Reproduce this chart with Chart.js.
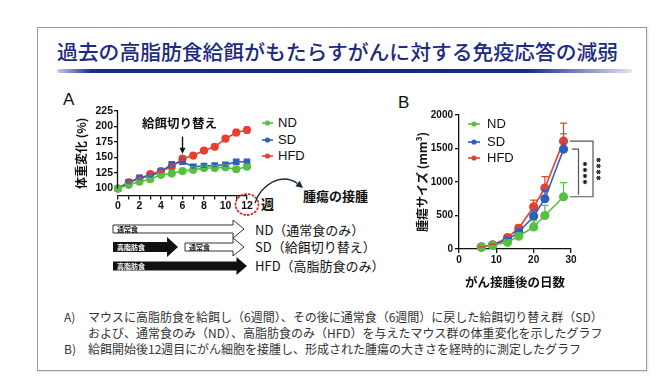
<!DOCTYPE html>
<html><head><meta charset="utf-8">
<script src="https://cdn.jsdelivr.net/npm/chart.js@4.4.0/dist/chart.umd.min.js"></script>
<style>
html,body{margin:0;padding:0;background:#fff;width:670px;height:388px;overflow:hidden;font-family:"Noto Sans CJK JP","Noto Sans",sans-serif;}
.abs{position:absolute;white-space:nowrap;}
#frame{position:absolute;left:37px;top:27px;width:608px;height:342px;border:1px solid #9a9a9a;box-shadow:1px 1px 2px rgba(0,0,0,0.12);}
#title{left:57px;top:37px;font-size:20.8px;font-weight:500;color:#1c2b80;line-height:28px;letter-spacing:0px;}
#uline{position:absolute;left:57px;top:69px;width:575px;height:4px;border-radius:2px;
 background:linear-gradient(to right,rgba(40,50,150,0.25) 0%,#1d2b8f 6%,#16237d 50%,#1d2b8f 82%,rgba(60,70,160,0.15) 100%);filter:blur(0.5px);}
.panel{font-family:"Liberation Sans",Arial,sans-serif;font-size:17px;color:#111;line-height:20px;}
.cap{font-size:12px;color:#333;line-height:16px;}
.bold{font-weight:bold;color:#111;}
.leg{font-family:"Liberation Sans",Arial,sans-serif;font-size:13px;color:#111;line-height:16px;}
.dlab{font-size:13px;color:#111;line-height:16px;}
canvas{position:absolute;}
svg{position:absolute;left:0;top:0;}
</style></head>
<body>
<div id="frame"></div>
<div class="abs" id="title">過去の高脂肪食給餌がもたらすがんに対する免疫応答の減弱</div>
<div id="uline"></div>

<div class="abs panel" style="left:63px;top:90px;">A</div>
<div class="abs panel" style="left:398px;top:93px;">B</div>

<canvas id="cA" width="200" height="125" style="left:60px;top:95px;"></canvas>
<canvas id="cB" width="225" height="190" style="left:395px;top:105px;"></canvas>

<div class="abs bold" style="left:142px;top:115px;font-size:12.5px;line-height:16px;">給餌切り替え</div>
<div class="abs bold" style="left:261px;top:196px;font-size:13px;line-height:16px;">週</div>
<div class="abs bold" style="left:303px;top:188px;font-size:13px;line-height:16px;">腫瘍の接腫</div>

<div class="abs leg" style="left:278px;top:115px;">ND</div>
<div class="abs leg" style="left:278px;top:132px;">SD</div>
<div class="abs leg" style="left:278px;top:148px;">HFD</div>

<div class="abs leg" style="left:487px;top:116px;">ND</div>
<div class="abs leg" style="left:487px;top:134px;">SD</div>
<div class="abs leg" style="left:487px;top:150px;">HFD</div>

<div class="abs dlab" style="left:255px;top:222px;">ND（通常食のみ）</div>
<div class="abs dlab" style="left:255px;top:239px;">SD（給餌切り替え）</div>
<div class="abs dlab" style="left:255px;top:258px;">HFD（高脂肪食のみ）</div>

<div class="abs cap" style="left:64px;top:309px;">A)</div>
<div class="abs cap" style="left:88px;top:309px;">マウスに高脂肪食を給餌し（6週間）、その後に通常食（6週間）に戻した給餌切り替え群（SD）</div>
<div class="abs cap" style="left:88px;top:325px;">および、通常食のみ（ND）、高脂肪食のみ（HFD）を与えたマウス群の体重変化を示したグラフ</div>
<div class="abs cap" style="left:64px;top:341px;">B)</div>
<div class="abs cap" style="left:88px;top:341px;">給餌開始後12週目にがん細胞を接腫し、形成された腫瘍の大きさを経時的に測定したグラフ</div>

<svg width="670" height="388" viewBox="0 0 670 388">
  <g stroke-width="1.6">
    <line x1="262" y1="123" x2="273" y2="123" stroke="#56c040"/><circle cx="267.5" cy="123" r="2.6" fill="#56c040"/>
    <line x1="262" y1="140" x2="273" y2="140" stroke="#2f5fbf"/><circle cx="267.5" cy="140" r="2.6" fill="#2f5fbf"/>
    <line x1="262" y1="156" x2="273" y2="156" stroke="#e8402f"/><circle cx="267.5" cy="156" r="2.6" fill="#e8402f"/>
  </g>
  <g stroke-width="1.6">
    <line x1="468" y1="124" x2="480" y2="124" stroke="#56c040"/><circle cx="474" cy="124" r="2.6" fill="#56c040"/>
    <line x1="468" y1="142" x2="480" y2="142" stroke="#2f5fbf"/><circle cx="474" cy="142" r="2.6" fill="#2f5fbf"/>
    <line x1="468" y1="158" x2="480" y2="158" stroke="#e8402f"/><circle cx="474" cy="158" r="2.6" fill="#e8402f"/>
  </g>
  <path d="M255,203 C261,185 281,172 297.6,183.5" fill="none" stroke="#1d2a3a" stroke-width="1.3"/>
  <polygon points="303,188 295.4,186.2 299.8,180.8" fill="#1d2a3a"/>
  <polygon points="113,225 233,225 233,220 244,229 233,238 233,233 113,233" fill="#fff" stroke="#333" stroke-width="1"/>
  <text x="117" y="231.5" font-size="7" font-weight="bold" fill="#111" font-family="Noto Sans CJK JP">通常食</text>
  <polygon points="113,242 167,242 167,237 178,247 167,257 167,252 113,252" fill="#111"/>
  <text x="117" y="249.5" font-size="7" font-weight="bold" fill="#fff" font-family="Noto Sans CJK JP">高脂肪食</text>
  <polygon points="185,243 233,243 233,238 244,247 233,256 233,251 185,251" fill="#fff" stroke="#333" stroke-width="1"/>
  <text x="189" y="249.5" font-size="7" font-weight="bold" fill="#111" font-family="Noto Sans CJK JP">通常食</text>
  <polygon points="113,261.5 236.5,261.5 236.5,257 247,266 236.5,275 236.5,270.5 113,270.5" fill="#111"/>
  <text x="117" y="268.5" font-size="7" font-weight="bold" fill="#fff" font-family="Noto Sans CJK JP">高脂肪食</text>
</svg>

<script>
// ---- data: panel A (body weight change, %) ----
const weeks = [0,1,2,3,4,5,6,7,8,9,10,11,12];
const bwND  = [100,106,111,115,122,124,128,130,133,133,134,131,135];
const bwSD  = [100,110,117,120,127,139,143,135,136,137,138,143,143];
const bwHFD = [100,110,116,123,128,135,148,153,161,167,180,190,194];
const bwErrND  = [0,1,1,1,1,1,1.5,1.5,1.5,1.5,1.5,1.5,1.5];
const bwErrSD  = [0,1,1,1,1.5,2,3,2,2,2,2,2,2];
const bwErrHFD = [0,2,2,2,2,3,3,3,4,3,4,5,5];
const yTicksA = [100,125,150,175,200,225];
const xTicksA = [0,1,2,3,4,5,6,7,8,9,10,11,12];
const switchWeek = 6;

// ---- data: panel B (tumor size, mm3) ----
const days   = [6,9,13,16,20,23,28];
const tumND  = [25,55,100,190,330,500,780];
const tumSD  = [30,60,140,250,490,750,1490];
const tumHFD = [30,60,170,310,630,910,1610];
const errND  = [5,10,15,40,90,150,210];
const errSD  = [5,10,20,40,80,120,230];
const errHFD = [5,10,25,45,100,170,270];
const yTicksB = [0,500,1000,1500,2000];
const xTicksB = [0,10,20,30];

const seriesNames = ['ND','SD','HFD'];
const GREEN='#56c040', BLUE='#2f5fbf', RED='#e8402f', AX='#111';
const tickFont = {family:'Liberation Sans', weight:'bold', size:10.5};
const titleFont = {family:'Noto Sans CJK JP', weight:'bold', size:12};

function pts(xs, ys){ return xs.map((x,i)=>({x:x,y:ys[i]})); }

const errorBars = {
  id:'errorBars',
  afterDatasetsDraw(chart){
    const {ctx} = chart; const ys = chart.scales.y;
    chart.data.datasets.forEach((ds,di)=>{
      if(!ds.errs) return;
      const meta = chart.getDatasetMeta(di);
      ctx.save(); ctx.strokeStyle = ds.borderColor; ctx.lineWidth = 1.2;
      meta.data.forEach((p,i)=>{
        const e = ds.errs[i]; if(!e) return;
        const v = ds.data[i].y;
        const yTop = ys.getPixelForValue(v+e);
        const yBot = ds.errMode==='both' ? ys.getPixelForValue(v-e) : p.y;
        const hw = ds.capW || 3;
        ctx.beginPath();
        ctx.moveTo(p.x, yBot); ctx.lineTo(p.x, yTop);
        ctx.moveTo(p.x-hw, yTop); ctx.lineTo(p.x+hw, yTop);
        if(ds.errMode==='both'){ ctx.moveTo(p.x-hw, yBot); ctx.lineTo(p.x+hw, yBot); }
        ctx.stroke();
      });
      ctx.restore();
    });
  }
};

const annotA = {
  id:'annotA',
  afterDraw(chart){
    const {ctx, chartArea} = chart; const xs = chart.scales.x, ys = chart.scales.y;
    ctx.save();
    ctx.strokeStyle = AX; ctx.lineWidth = 1.3;
    ctx.beginPath(); ctx.moveTo(chartArea.left-0.5, ys.getPixelForValue(yTicksA[0])); ctx.lineTo(chartArea.left-0.5, ys.getPixelForValue(yTicksA[yTicksA.length-1])); ctx.stroke();
    const ax = xs.getPixelForValue(switchWeek);
    const tip = ys.getPixelForValue(bwHFD[switchWeek]) - 5;
    ctx.fillStyle = AX; ctx.lineWidth = 1.4;
    ctx.beginPath(); ctx.moveTo(ax, tip-17); ctx.lineTo(ax, tip-4); ctx.stroke();
    ctx.beginPath(); ctx.moveTo(ax, tip); ctx.lineTo(ax-3, tip-6); ctx.lineTo(ax+3, tip-6); ctx.closePath(); ctx.fill();
    const cx = xs.getPixelForValue(weeks[weeks.length-1]);
    ctx.strokeStyle = '#d9262a'; ctx.lineWidth = 1.8; ctx.setLineDash([1.2,2.6]); ctx.lineCap='round';
    ctx.beginPath(); ctx.ellipse(cx, chartArea.bottom+8.5, 11.5, 10.5, 0, 0, Math.PI*2); ctx.stroke();
    ctx.restore();
  }
};

const sigB = {
  id:'sigB',
  afterDraw(chart){
    const {ctx, chartArea} = chart; const ys = chart.scales.y;
    const r = chartArea.right, n = days.length-1;
    const yH = ys.getPixelForValue(tumHFD[n]), yS = ys.getPixelForValue(tumSD[n]), yN = ys.getPixelForValue(tumND[n]);
    ctx.save(); ctx.strokeStyle = '#555'; ctx.lineWidth = 1.2;
    ctx.beginPath();
    ctx.moveTo(r-1, yH); ctx.lineTo(r+22, yH); ctx.lineTo(r+22, yN); ctx.lineTo(r-1, yN);
    ctx.moveTo(r+1, yS); ctx.lineTo(r+7.5, yS); ctx.lineTo(r+7.5, yN-2);
    ctx.stroke();
    ctx.strokeStyle = '#111'; ctx.lineWidth = 1.1;
    const star = (x,y)=>{ for(let k=0;k<3;k++){ const a=k*Math.PI/3; ctx.beginPath(); ctx.moveTo(x-2.3*Math.cos(a), y-2.3*Math.sin(a)); ctx.lineTo(x+2.3*Math.cos(a), y+2.3*Math.sin(a)); ctx.stroke(); } };
    const mid1 = (yS+yN)/2, mid2 = (yH+yN)/2;
    for(let k=0;k<4;k++){ star(r+14, mid1-9+k*6); star(r+27.5, mid2-9+k*6); }
    ctx.restore();
  }
};

const common = {
  animation:false, responsive:false, devicePixelRatio:1,
  plugins:{legend:{display:false}, tooltip:{enabled:false}},
  elements:{line:{tension:0}}
};

new Chart(document.getElementById('cA'), {
  type:'line',
  data:{datasets:[
    {label:seriesNames[0], data:pts(weeks,bwND), borderColor:GREEN, backgroundColor:GREEN, pointStyle:'circle', pointRadius:3.3, borderWidth:1.6, clip:false, errs:bwErrND, errMode:'both', capW:2.5},
    {label:seriesNames[1], data:pts(weeks,bwSD), borderColor:BLUE, backgroundColor:BLUE, pointStyle:'rect', pointRadius:3.6, borderWidth:1.6, clip:false, errs:bwErrSD, errMode:'both', capW:2.5},
    {label:seriesNames[2], data:pts(weeks,bwHFD), borderColor:RED, backgroundColor:RED, pointStyle:'circle', pointRadius:3.3, borderWidth:1.6, clip:false, errs:bwErrHFD, errMode:'both', capW:2.5}
  ]},
  options:Object.assign({}, common, {
    layout:{padding:{top:15.7,right:13,left:0,bottom:0}},
    scales:{
      x:{type:'linear', min:0, max:12,
        afterFit:s=>{s.height=24;},
        afterBuildTicks:s=>{s.ticks = xTicksA.map(v=>({value:v}));},
        border:{display:true,color:AX,width:1.3},
        grid:{drawOnChartArea:false,tickLength:3.5,color:AX,lineWidth:1.3},
        ticks:{autoSkip:false,maxRotation:0,padding:0,font:tickFont,color:AX,callback:v=>v%2===0?String(v):''}},
      y:{type:'linear', min:88, max:225,
        afterFit:s=>{s.width=58;},
        afterBuildTicks:s=>{s.ticks = yTicksA.map(v=>({value:v}));},
        border:{display:false},
        grid:{drawOnChartArea:false,tickLength:4,color:AX,lineWidth:1.3},
        ticks:{padding:1,font:tickFont,color:AX,callback:v=>String(v)},
        title:{display:true,text:'体重変化 (%)',font:titleFont,color:AX,padding:{top:14.5,bottom:0}}}
    }
  }),
  plugins:[errorBars, annotA]
});

new Chart(document.getElementById('cB'), {
  type:'line',
  data:{datasets:[
    {label:seriesNames[0], data:pts(days,tumND), borderColor:GREEN, backgroundColor:GREEN, pointRadius:3.8, borderWidth:1.6, clip:false, errs:errND, errMode:'up', capW:3.5},
    {label:seriesNames[1], data:pts(days,tumSD), borderColor:BLUE, backgroundColor:BLUE, pointRadius:3.8, borderWidth:1.6, clip:false, errs:errSD, errMode:'up', capW:3.5},
    {label:seriesNames[2], data:pts(days,tumHFD), borderColor:RED, backgroundColor:RED, pointRadius:3.8, borderWidth:1.6, clip:false, errs:errHFD, errMode:'up', capW:3.5}
  ]},
  options:Object.assign({}, common, {
    layout:{padding:{top:10,right:49,left:0,bottom:0}},
    scales:{
      x:{type:'linear', min:0, max:30,
        afterFit:s=>{s.height=46;},
        afterBuildTicks:s=>{s.ticks = xTicksB.map(v=>({value:v}));},
        border:{display:true,color:AX,width:1.3},
        grid:{drawOnChartArea:false,tickLength:4,color:AX,lineWidth:1.3},
        ticks:{autoSkip:false,maxRotation:0,padding:1,font:{family:'Liberation Sans',weight:'bold',size:10},color:AX,callback:v=>String(v)},
        title:{display:true,text:'がん接腫後の日数',font:{family:'Noto Sans CJK JP',weight:'bold',size:12.5},color:AX,padding:{top:0,bottom:5.5}}},
      y:{type:'linear', min:0, max:2000,
        afterFit:s=>{s.width=64;},
        afterBuildTicks:s=>{s.ticks = yTicksB.map(v=>({value:v}));},
        border:{display:true,color:AX,width:1.3},
        grid:{drawOnChartArea:false,tickLength:4,color:AX,lineWidth:1.3},
        ticks:{padding:2,font:{family:'Liberation Sans',weight:'bold',size:10},color:AX,callback:v=>String(v)},
        title:{display:true,text:'腫瘍サイズ (mm³)',font:titleFont,color:AX,padding:{top:20.5,bottom:0}}}
    }
  }),
  plugins:[errorBars, sigB]
});
</script>
</body></html>
